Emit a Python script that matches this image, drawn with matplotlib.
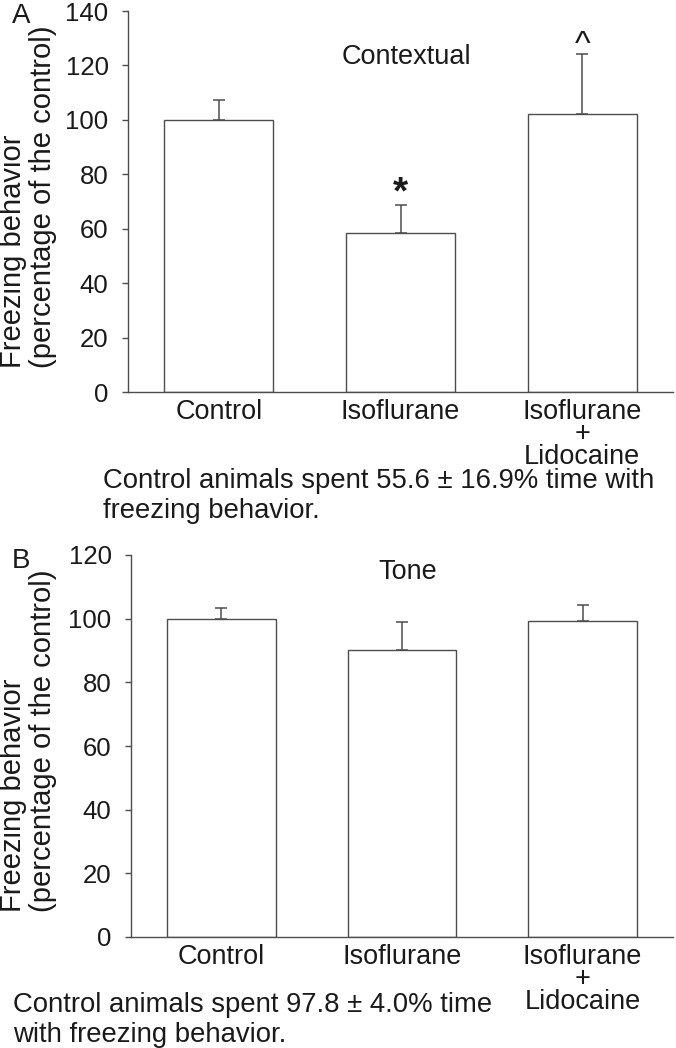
import matplotlib
matplotlib.use("Agg")
import matplotlib.pyplot as plt
import numpy as np

plt.rcParams["font.family"] = ["Liberation Sans", "DejaVu Sans"]

groups = ["Control", "Isoflurane", "Isoflurane\n+\nLidocaine"]

contextual_mean = [100, 58.6, 102.3]
contextual_err = [7.3, 10.1, 21.8]
contextual_marks = ["", "*", "^"]

tone_mean = [100, 90.2, 99.2]
tone_err = [3.5, 8.8, 5.1]

contextual_note = "Control animals spent 55.6 \u00b1 16.9% time with\nfreezing behavior."
tone_note = "Control animals spent 97.8 \u00b1 4.0% time\nwith freezing behavior."
ylabel_lines = ["Freezing behavior", "(percentage of the control)"]

W, H = 676, 1048
edge = "#4d4d4d"
txt = "#1a1a1a"


def px(x, y):
    # pixel position -> figure fraction
    return x / W, 1 - y / H


def draw_panel(ax, means, errs, ymax, title, title_y):
    x = np.arange(len(groups))
    ax.bar(x, means, width=0.6, color="white", edgecolor=edge, linewidth=1.0, zorder=2)
    ax.errorbar(x, means, yerr=[np.zeros(len(errs)), errs], fmt="none",
                ecolor=edge, elinewidth=1.1, capsize=4.5, capthick=1.1, zorder=1)
    ax.set_xlim(-0.5, 2.5)
    ax.set_ylim(0, ymax)
    ax.set_yticks(np.arange(0, ymax + 1, 20))
    ax.set_xticks(x)
    ax.set_xticklabels(groups, fontsize=19.5, color=txt, linespacing=0.82)
    ax.tick_params(axis="x", length=0, pad=5)
    ax.tick_params(axis="y", length=4, width=1.0, color=edge, labelsize=18.5,
                   labelcolor=txt, pad=10)
    for s in ["top", "right"]:
        ax.spines[s].set_visible(False)
    for s in ["left", "bottom"]:
        ax.spines[s].set_color(edge)
        ax.spines[s].set_linewidth(1.0)
    ax.text(1.03, title_y, title, ha="center", va="center", fontsize=19.5, color=txt)


def draw_ylabel(bottom_px):
    # two rotated lines, both starting at the same height
    for xc, line in zip([13, 43], ylabel_lines):
        fig.text(*px(xc, bottom_px), line, rotation=90, ha="center", va="bottom",
                 fontsize=21, color=txt)


fig = plt.figure(figsize=(W / 100, H / 100), dpi=100)

axA = fig.add_axes([128 / W, 1 - 392 / H, (673 - 128) / W, (392 - 11) / H])
draw_panel(axA, contextual_mean, contextual_err, 140, "Contextual", 123)
for i, m in enumerate(contextual_marks):
    if m:
        axA.annotate(m, xy=(i, contextual_mean[i] + contextual_err[i]),
                     xytext=(0, -5), textcoords="offset points", ha="center",
                     va="bottom", fontsize=28 if m == "*" else 24,
                     fontweight="bold" if m == "*" else "normal", color=txt)

axB = fig.add_axes([131 / W, 1 - 937 / H, (673 - 131) / W, (937 - 555) / H])
draw_panel(axB, tone_mean, tone_err, 120, "Tone", 114.6)

fig.text(*px(21, 16), "A", ha="center", va="center", fontsize=20, color=txt)
fig.text(*px(21, 561), "B", ha="center", va="center", fontsize=20, color=txt)

draw_ylabel(368)
draw_ylabel(912)

fig.text(*px(103, 496), contextual_note, ha="left", va="center", fontsize=19.8,
         color=txt, linespacing=1.25)
fig.text(*px(13, 1020), tone_note, ha="left", va="center", fontsize=19.8,
         color=txt, linespacing=1.15)

fig.savefig("out.png", dpi=100)
